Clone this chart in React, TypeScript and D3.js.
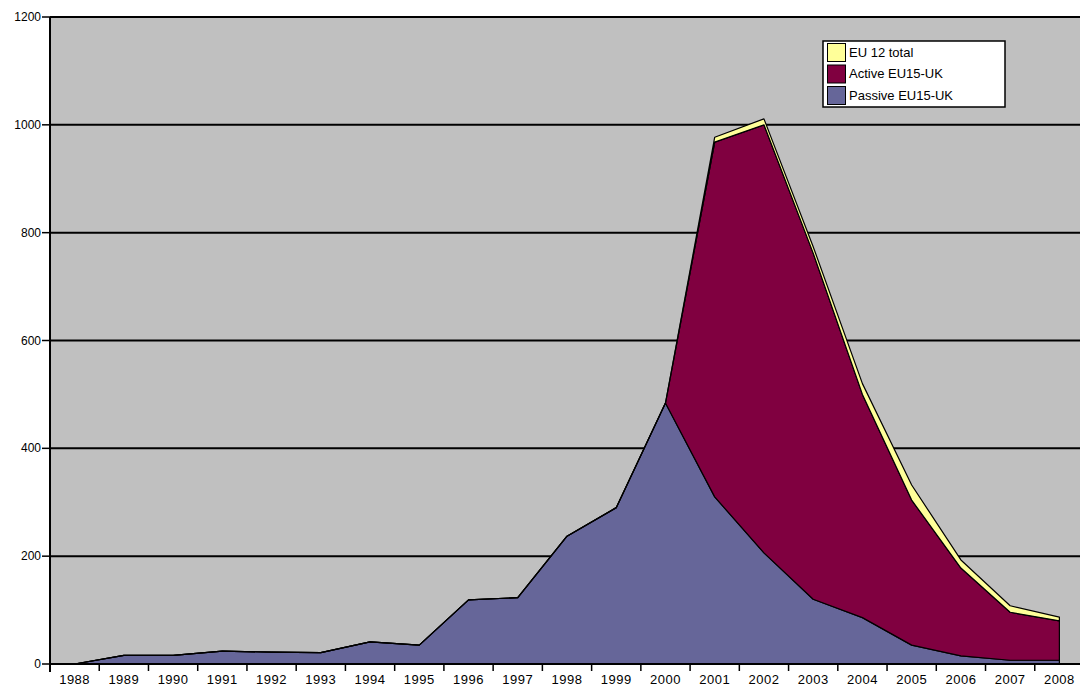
import React from "react";
import * as d3 from "d3";

const years = [
  "1988", "1989", "1990", "1991", "1992", "1993", "1994", "1995", "1996", "1997", "1998",
  "1999", "2000", "2001", "2002", "2003", "2004", "2005", "2006", "2007", "2008",
];
const passive = [0, 16, 16, 24, 22, 21, 41, 35, 119, 123, 237, 290, 484, 310, 206, 120, 86, 35, 15, 7, 7];
const active = [0, 0, 0, 0, 0, 0, 0, 0, 0, 0, 0, 0, 0, 658, 794, 642, 414, 269, 163, 89, 73];
const eu12 = [0, 0, 0, 0, 0, 0, 0, 0, 0, 0, 0, 0, 0, 9, 11, 12, 20, 28, 15, 12, 7];
const yTicks = [0, 200, 400, 600, 800, 1000, 1200];

const seriesKeys = ["passive", "active", "eu12"];
const seriesNames: Record<string, string> = {
  eu12: "EU 12 total",
  active: "Active EU15-UK",
  passive: "Passive EU15-UK",
};
const colors: Record<string, string> = {
  passive: "#666699",
  active: "#800040",
  eu12: "#ffff99",
};

const W = 1080;
const H = 688;
const left = 50;
const top = 17;
const bottom = 664;
const right = 1084;
const font = "'Liberation Sans', Arial, sans-serif";

export default function App() {
  const rows = years.map((y, i) => ({
    year: y,
    passive: passive[i],
    active: active[i],
    eu12: eu12[i],
  }));

  const x = d3.scaleBand<string>().domain(years).range([left, right]);
  const y = d3.scaleLinear().domain([0, 1200]).range([bottom, top]);

  const stacked = d3.stack<any>().keys(seriesKeys)(rows);
  const area = d3
    .area<any>()
    .x((d) => (x(d.data.year) as number) + x.bandwidth() / 2)
    .y0((d) => y(d[0]))
    .y1((d) => y(d[1]));

  const legendOrder = ["eu12", "active", "passive"];

  return (
    <svg
      width={W}
      height={H}
      style={{ position: "absolute", left: 0, top: 0 }}
      fontFamily={font}
    >
      <rect x={left} y={top} width={right - left} height={bottom - top} fill="#c0c0c0" />
      {yTicks.map((t) => (
        <g key={t}>
          <line x1={left} x2={right} y1={y(t)} y2={y(t)} stroke="#000" strokeWidth={2} />
          <line x1={left - 8} x2={left} y1={y(t)} y2={y(t)} stroke="#000" strokeWidth={1.5} />
          <text x={left - 9} y={y(t) + 4} textAnchor="end" fontSize={12} fill="#000">
            {t}
          </text>
        </g>
      ))}
      {stacked.map((s) => (
        <path
          key={s.key}
          d={area(s) as string}
          fill={colors[s.key]}
          stroke="#000"
          strokeWidth={1.2}
          strokeLinejoin="round"
        />
      ))}
      <line x1={left} x2={left} y1={top} y2={bottom + 8} stroke="#000" strokeWidth={2} />
      <line x1={left} x2={right} y1={bottom} y2={bottom} stroke="#000" strokeWidth={2} />
      {years.map((yr) => (
        <g key={yr}>
          <line
            x1={(x(yr) as number) + x.bandwidth()}
            x2={(x(yr) as number) + x.bandwidth()}
            y1={bottom}
            y2={bottom + 7}
            stroke="#000"
            strokeWidth={1.5}
          />
          <text
            x={(x(yr) as number) + x.bandwidth() / 2}
            y={684}
            textAnchor="middle"
            fontSize={13}
            letterSpacing={0.5}
            fill="#000"
          >
            {yr}
          </text>
        </g>
      ))}
      <g>
        <rect x={823} y={41} width={182} height={66} fill="#fff" stroke="#000" strokeWidth={1.5} />
        {legendOrder.map((k, i) => (
          <g key={k} transform={`translate(827,${43 + i * 21.5})`}>
            <rect x={0.5} y={0.5} width={18} height={18} fill={colors[k]} stroke="#000" strokeWidth={1} />
            <text x={22} y={13.5} fontSize={13} fill="#000">
              {seriesNames[k]}
            </text>
          </g>
        ))}
      </g>
    </svg>
  );
}
